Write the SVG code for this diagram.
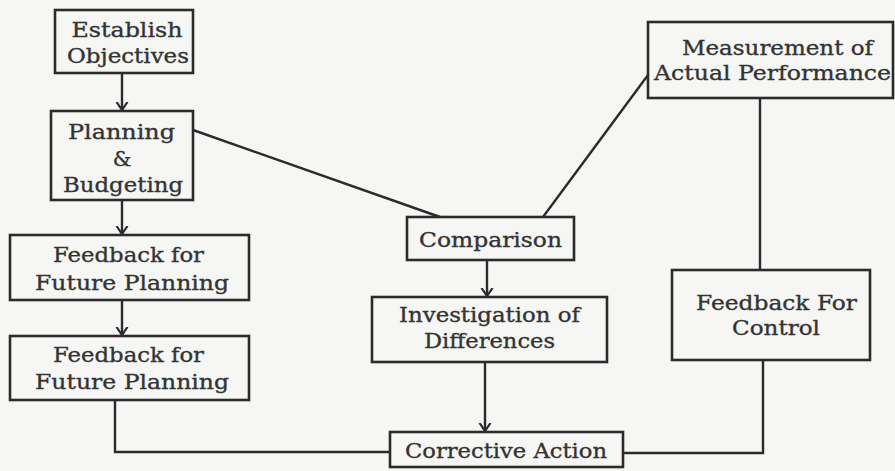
<svg xmlns="http://www.w3.org/2000/svg" width="895" height="471" viewBox="0 0 895 471">
<defs>
<marker id="arr" markerUnits="userSpaceOnUse" markerWidth="16" markerHeight="16" viewBox="-8 -8 16 16" refX="0" refY="0" orient="auto">
<polyline points="-8,-5.5 0,0 -8,5.5" fill="none" stroke="#2b2b2b" stroke-width="2.2"/>
</marker>
<style>
.box{fill:none;stroke:#2b2b2b;stroke-width:2.6}
.ln{fill:none;stroke:#2b2b2b;stroke-width:2.4}
.t{font-family:"DejaVu Serif","Liberation Serif",serif;font-size:21px;fill:#333;stroke:#333;stroke-width:0.35;text-anchor:middle}
</style>
</defs>
<rect width="895" height="471" fill="#f6f6f4"/>
<g id="connectors">
<line class="ln" x1="122" y1="73" x2="122" y2="110" marker-end="url(#arr)"/>
<line class="ln" x1="122" y1="200" x2="122" y2="234" marker-end="url(#arr)"/>
<line class="ln" x1="122" y1="300" x2="122" y2="335" marker-end="url(#arr)"/>
<line class="ln" x1="193" y1="130" x2="440" y2="217"/>
<line class="ln" x1="648" y1="75" x2="543" y2="217"/>
<line class="ln" x1="487" y1="260" x2="487" y2="296" marker-end="url(#arr)"/>
<line class="ln" x1="485" y1="362" x2="485" y2="431" marker-end="url(#arr)"/>
<polyline class="ln" points="115,400 115,452 390,452"/>
<polyline class="ln" points="623,453 763,453 763,360"/>
<line class="ln" x1="760" y1="98" x2="760" y2="270"/>
</g>
<g id="establish">
<rect class="box" x="55" y="10" width="138" height="63"/>
<text class="t" x="127" y="37" textLength="111" lengthAdjust="spacingAndGlyphs">Establish</text>
<text class="t" x="128" y="63" textLength="122" lengthAdjust="spacingAndGlyphs">Objectives</text>
</g>
<g id="planning">
<rect class="box" x="51" y="111" width="142" height="89"/>
<text class="t" x="121.5" y="139" textLength="107" lengthAdjust="spacingAndGlyphs">Planning</text>
<text class="t" x="122" y="166">&amp;</text>
<text class="t" x="123" y="192" textLength="120" lengthAdjust="spacingAndGlyphs">Budgeting</text>
</g>
<g id="ffp1">
<rect class="box" x="10" y="235" width="239" height="65"/>
<text class="t" x="128.5" y="262" textLength="151" lengthAdjust="spacingAndGlyphs">Feedback for</text>
<text class="t" x="132" y="290" textLength="194" lengthAdjust="spacingAndGlyphs">Future Planning</text>
</g>
<g id="ffp2">
<rect class="box" x="10" y="336" width="239" height="64"/>
<text class="t" x="128.5" y="362" textLength="151" lengthAdjust="spacingAndGlyphs">Feedback for</text>
<text class="t" x="132" y="389" textLength="194" lengthAdjust="spacingAndGlyphs">Future Planning</text>
</g>
<g id="comparison">
<rect class="box" x="407" y="217" width="167" height="43"/>
<text class="t" x="490.5" y="247" textLength="143" lengthAdjust="spacingAndGlyphs">Comparison</text>
</g>
<g id="investigation">
<rect class="box" x="372" y="297" width="235" height="65"/>
<text class="t" x="489.5" y="322" textLength="181" lengthAdjust="spacingAndGlyphs">Investigation of</text>
<text class="t" x="489.5" y="348" textLength="131" lengthAdjust="spacingAndGlyphs">Differences</text>
</g>
<g id="corrective">
<rect class="box" x="390" y="432" width="233" height="35"/>
<text class="t" x="506" y="458" textLength="202" lengthAdjust="spacingAndGlyphs">Corrective Action</text>
</g>
<g id="measurement">
<rect class="box" x="648" y="22" width="245" height="76"/>
<text class="t" x="777.5" y="55" textLength="191" lengthAdjust="spacingAndGlyphs">Measurement of</text>
<text class="t" x="772.5" y="80" textLength="237" lengthAdjust="spacingAndGlyphs">Actual Performance</text>
</g>
<g id="feedback-control">
<rect class="box" x="672" y="270" width="198" height="90"/>
<text class="t" x="776.5" y="310" textLength="161" lengthAdjust="spacingAndGlyphs">Feedback For</text>
<text class="t" x="776" y="335" textLength="88" lengthAdjust="spacingAndGlyphs">Control</text>
</g>
</svg>
